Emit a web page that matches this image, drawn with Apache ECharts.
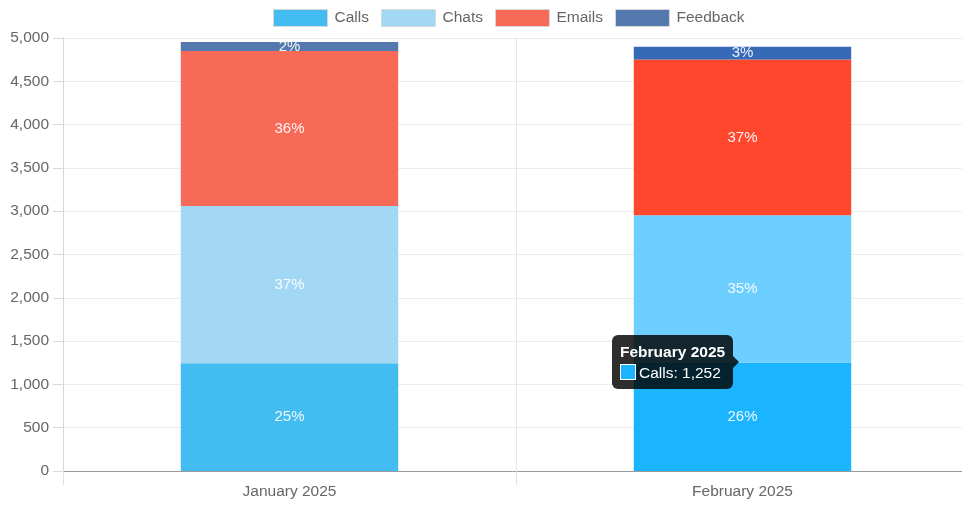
<!DOCTYPE html>
<html>
<head>
<meta charset="utf-8">
<script src="https://cdn.jsdelivr.net/npm/echarts@6/dist/echarts.min.js"></script>
<style>
  html, body { margin: 0; padding: 0; background: #fff; }
  #chart { width: 962px; height: 508px; }
</style>
</head>
<body>
<div id="chart"></div>
<script>
// data
const months = ['January 2025', 'February 2025']
const calls = [1245, 1252]
const chats = [1815, 1700]
const emails = [1790, 1800]
const feedback = [105, 148]
const yTicks = [0, 500, 1000, 1500, 2000, 2500, 3000, 3500, 4000, 4500, 5000]

const seriesNames = ['Calls', 'Chats', 'Emails', 'Feedback']
// normal colours, and the brighter "hover" colours used for February
const baseColors = ['#43bcf2', '#a2d8f3', '#f76a57', '#5479af']
const hoverColors = ['#1ab4ff', '#6ccfff', '#ff472e', '#3669b6']

const font = '"Liberation Sans", Arial, Helvetica, sans-serif'
const allData = [calls, chats, emails, feedback]
const totals = months.map((m, i) => allData.reduce((s, arr) => s + arr[i], 0))

const chart = echarts.init(document.getElementById('chart'))

const series = allData.map((arr, si) => ({
  name: seriesNames[si],
  type: 'bar',
  stack: 'total',
  barWidth: '48%',
  itemStyle: { color: baseColors[si] },
  label: {
    show: true,
    position: 'inside',
    color: 'rgba(255,255,255,0.92)',
    fontSize: 15,
    fontFamily: font,
    formatter: (p) => Math.round((p.value / totals[p.dataIndex]) * 100) + '%'
  },
  emphasis: { disabled: true },
  data: arr.map((v, i) => ({
    value: v,
    itemStyle: { color: i === 1 ? hoverColors[si] : baseColors[si] }
  }))
}))

const options = {
  animation: false,
  textStyle: { fontFamily: font },
  legend: {
    top: 4,
    left: 268,
    itemWidth: 54,
    itemHeight: 17,
    itemGap: 12,
    textStyle: { color: '#666', fontSize: 15.5, fontFamily: font, padding: [0, 0, 0, 2] },
    data: seriesNames.map((n, i) => ({
      name: n,
      icon: 'rect',
      itemStyle: { color: baseColors[i], borderColor: '#d8d8d8', borderWidth: 1 }
    }))
  },
  tooltip: {
    trigger: 'item',
    alwaysShowContent: true,
    transitionDuration: 0,
    backgroundColor: 'rgba(0,0,0,0.82)',
    borderWidth: 0,
    padding: [6, 8],
    position: [612, 335],
    extraCssText: 'border-radius:6px;box-shadow:none;',
    formatter: (p) =>
      '<div style="position:relative;font-family:' + font.replace(/"/g, "'") + ';color:#fff;line-height:21px;">' +
      '<div style="font-weight:bold;font-size:15.5px;">' + p.name + '</div>' +
      '<div style="font-size:15.5px;"><span style="display:inline-block;width:14px;height:14px;background:' +
      p.color + ';border:1px solid #fff;vertical-align:-2px;margin-right:3px;"></span>' +
      p.seriesName + ': ' + p.value.toLocaleString('en-US') + '</div>' +
      '<div style="position:absolute;right:-14px;top:15px;width:0;height:0;border-top:6px solid transparent;' +
      'border-bottom:6px solid transparent;border-left:6px solid rgba(0,0,0,0.82);"></div>' +
      '</div>'
  },
  // the plot runs a little past the right edge of the picture
  grid: {
    top: 38,
    left: 63,
    width: 906,
    bottom: 37,
    outerBoundsMode: 'none'
  },
  xAxis: {
    type: 'category',
    data: months,
    axisLine: { lineStyle: { color: '#9a9a9a' } },
    axisTick: { show: true, length: 14, lineStyle: { color: '#e2e2e2' } },
    axisLabel: { color: '#666', fontSize: 15.5, margin: 13, fontFamily: font },
    splitLine: { show: true, lineStyle: { color: '#e5e5e5' } }
  },
  yAxis: {
    type: 'value',
    min: yTicks[0],
    max: yTicks[yTicks.length - 1],
    interval: yTicks[1] - yTicks[0],
    axisLine: { show: true, lineStyle: { color: '#d8d8d8' } },
    axisTick: { show: true, length: 10, lineStyle: { color: '#d8d8d8' } },
    axisLabel: {
      color: '#666',
      fontSize: 15.5,
      margin: 14,
      fontFamily: font,
      formatter: (v) => v.toLocaleString('en-US')
    },
    splitLine: { lineStyle: { color: '#ececec' } }
  },
  series
}

chart.setOption(options)
chart.dispatchAction({ type: 'showTip', seriesIndex: 0, dataIndex: 1 })

window.addEventListener('resize', () => {
  chart.resize()
})
</script>
</body>
</html>
